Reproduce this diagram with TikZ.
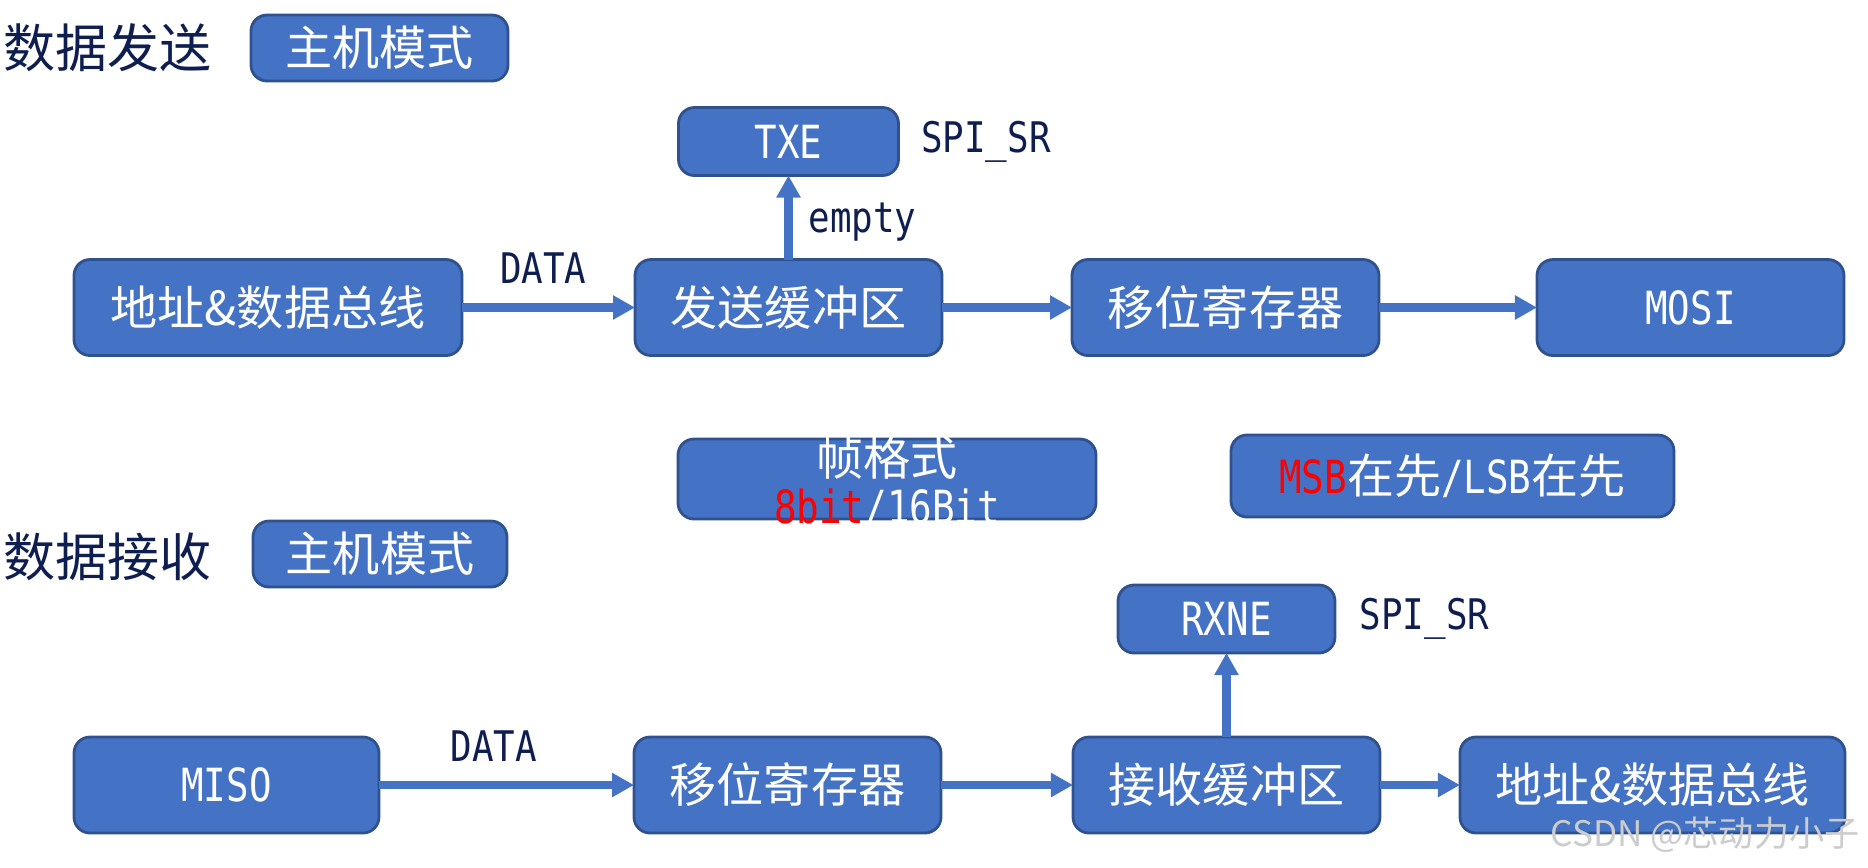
\documentclass[tikz,border=0pt]{standalone}
\usepackage{fontspec}
\setmainfont{Noto Sans CJK SC}
\newfontfamily\lat[FakeStretch=0.82]{DejaVu Sans Mono}
\newfontfamily\lattag[FakeStretch=0.85]{DejaVu Sans Mono}
\usetikzlibrary{arrows.meta,positioning}
\definecolor{boxblue}{HTML}{4472C4}
\definecolor{boxedge}{HTML}{2F528F}
\definecolor{navy}{HTML}{0E1E50}
\newcommand\monotxt[1]{{\lat\fontsize{13}{14}\selectfont #1}}
\tikzset{
    blk/.style={draw=boxedge, fill=boxblue, line width=0.8pt, rounded corners=1.6mm,
        text=white, font=\fontsize{13.4}{13.7}\selectfont, inner sep=0pt, outer sep=0pt,
        minimum width=30.7mm, minimum height=9.6mm},
    flow/.style={draw=boxblue, line width=2.3pt, -{Triangle[width=2.3mm,length=2.2mm]}},
    tag/.style={text=navy, font=\lattag\fontsize{12}{14}\selectfont, inner sep=0pt},
    heading/.style={text=navy, font=\fontsize{14.8}{17}\selectfont, inner sep=0pt, anchor=west}
}

\begin{document}
\begin{tikzpicture}[x=0.1mm, y=-0.1mm]
    \useasboundingbox (0,0) rectangle (1868,867);
    % sending
    \node[heading] (sendtitle) at (3,48) {数据发送};
    \node[blk, minimum width=25.7mm, minimum height=6.6mm] (sendmode) at (379.5,48) {主机模式};
    \node[blk, minimum width=38.8mm] (srcbus) at (268,307.5) {地址\&数据总线};
    \node[blk, right=17.3mm of srcbus] (txbuf) {发送缓冲区};
    \node[blk, right=13mm of txbuf] (txshift) {移位寄存器};
    \node[blk, right=15.8mm of txshift] (mosi) {\monotxt{MOSI}};
    \node[blk, above=8.4mm of txbuf, minimum width=22mm, minimum height=6.8mm] (txe) {\monotxt{TXE}};
    \node[tag, right=2.2mm of txe] (txreg) {SPI\_SR};
    \draw[flow] (srcbus) -- node[tag, above=2mm, pos=0.47] (txdata) {DATA} (txbuf);
    \draw[flow] (txbuf) -- node[tag, right=1.6mm, pos=0.45] (txempty) {empty} (txe);
    \draw[flow] (txbuf) -- (txshift);
    \draw[flow] (txshift) -- (mosi);

    % frame settings
    \node[blk, minimum width=41.8mm, minimum height=8mm] (frame) at (887,479) {};
    \node[text=white, align=center, inner sep=0pt, font=\fontsize{13.4}{13.7}\selectfont] (frametext) at (887,482)
        {帧格式\\\monotxt{{\color{red}8bit}/16Bit}};
    \node[blk, minimum width=44.3mm, minimum height=8.2mm] (order) at (1452.5,476)
        {\monotxt{\color{red}MSB}在先\monotxt{/LSB}在先};

    % receiving
    \node[heading] (recvtitle) at (3,557) {数据接收};
    \node[blk, minimum width=25.4mm, minimum height=6.6mm] (recvmode) at (380,554) {主机模式};
    \node[blk, minimum width=30.5mm] (miso) at (226.5,785) {\monotxt{MISO}};
    \node[blk, right=25.5mm of miso] (rxshift) {移位寄存器};
    \node[blk, right=13.2mm of rxshift] (rxbuf) {接收缓冲区};
    \node[blk, right=8mm of rxbuf, minimum width=38.5mm] (dstbus) {地址\&数据总线};
    \node[blk, above=8.4mm of rxbuf, minimum width=21.7mm, minimum height=6.8mm] (rxne) {\monotxt{RXNE}};
    \node[tag, right=2.4mm of rxne] (rxreg) {SPI\_SR};
    \draw[flow] (miso) -- node[tag, above=1.9mm, pos=0.45] (rxdata) {DATA} (rxshift);
    \draw[flow] (rxshift) -- (rxbuf);
    \draw[flow] (rxbuf) -- (rxne);
    \draw[flow] (rxbuf) -- (dstbus);

    \node[text=gray!40, inner sep=0pt, font=\fontsize{10}{12}\selectfont] (mark) at (1705,835) {CSDN @芯动力小子};
\end{tikzpicture}
\end{document}
